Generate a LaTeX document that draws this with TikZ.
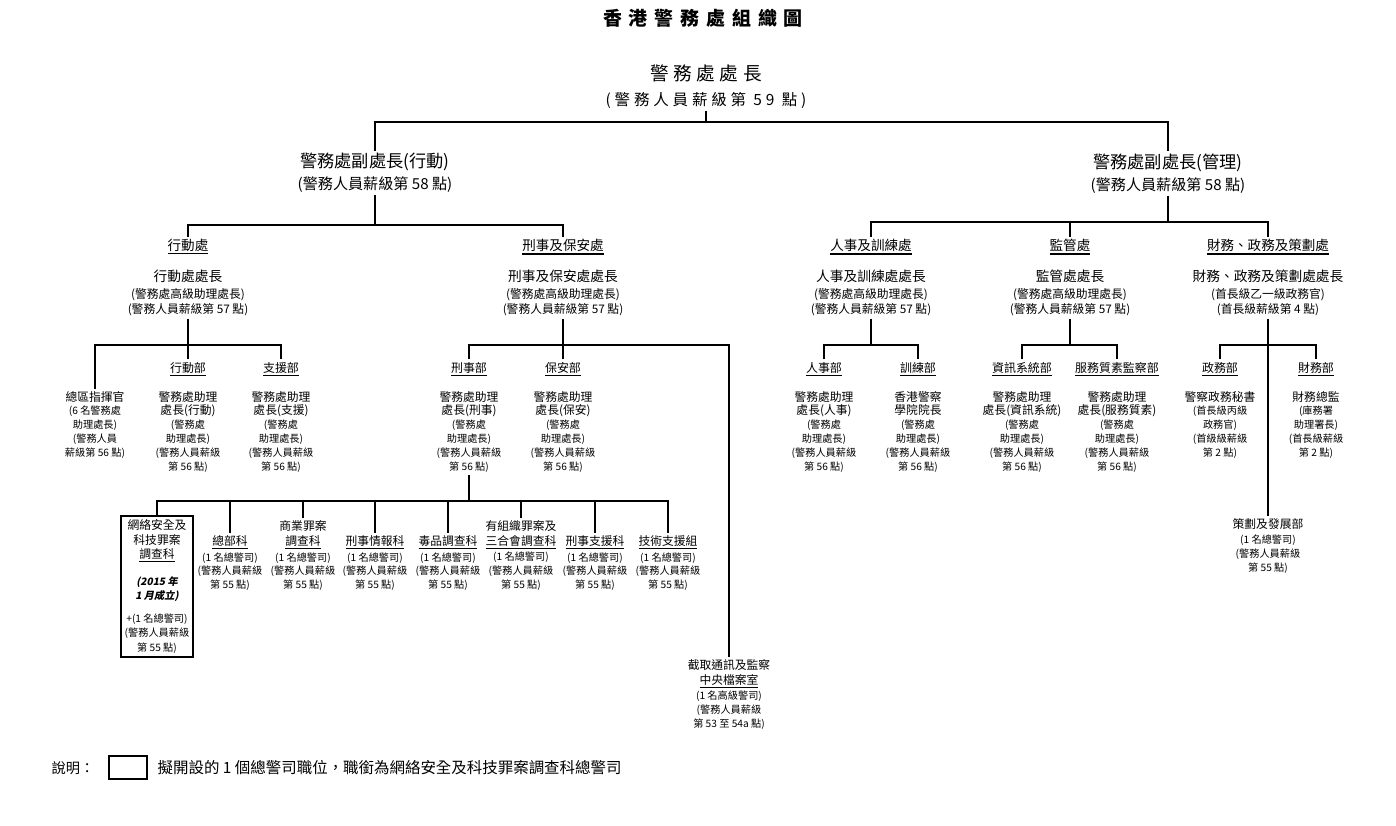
\documentclass[tikz,border=0pt]{standalone}
\usepackage{fontspec}
\setmainfont{Noto Sans CJK TC}
\newfontfamily\spacedfont[LetterSpace=25]{Noto Sans CJK TC}
\newfontfamily\titlefont[LetterSpace=36]{Noto Sans CJK TC}
\newfontfamily\slantfont[FakeSlant=0.2]{Noto Sans CJK TC}
\newcommand\lbig{\fontsize{6.7}{7.9}\selectfont}
\newcommand\lsmall{\fontsize{5.8}{7.9}\selectfont}
\newcommand\uline[1]{\setbox0\hbox{#1}\vtop{\copy0\kern0.9pt\hrule height0.65pt width\wd0}}

\begin{document}
\begin{tikzpicture}[x=0.02cm, y=-0.02cm,
  every node/.style={inner sep=0pt, outer sep=1.5pt, align=center, anchor=north},
  link/.style={line width=0.85pt},
  deputy/.style={font=\fontsize{8.6}{12.5}\selectfont},
  dept/.style={font=\fontsize{7.7}{9}\selectfont},
  head/.style={font=\fontsize{6.7}{8.6}\selectfont},
  unit/.style={font=\fontsize{6.8}{8}\selectfont},
  post/.style={font=\lsmall}]
\useasboundingbox (0,0) rectangle (1396,825);

\node[font=\titlefont\bfseries\fontsize{10.8}{12}\selectfont] (title) at (703,6) {香港警務處組織圖};

\node[font=\spacedfont\fontsize{8.8}{14.2}\selectfont] (chief) at (706,62.5) {{\fontsize{10.6}{14.2}\selectfont 警務處處長}\\(警務人員薪級第 59 點)};

\node[deputy] (dops) at (375,150.8) {{\fontsize{9.8}{12.5}\selectfont 警務處副處長(行動)}\\(警務人員薪級第 58 點)};
\node[deputy] (dadm) at (1168,150.8) {{\fontsize{9.8}{12.5}\selectfont 警務處副處長(管理)}\\(警務人員薪級第 58 點)};

\node[dept] (ops) at (188,236.6) {\uline{行動處}};
\node[dept] (crime) at (563,236.6) {\uline{刑事及保安處}};
\node[dept] (hr) at (871,236.6) {\uline{人事及訓練處}};
\node[dept] (sup) at (1070,236.6) {\uline{監管處}};
\node[dept] (fin) at (1268,236.6) {\uline{財務、政務及策劃處}};

\node[head] (opsh) at (188,267.5) {{\fontsize{7.8}{8.6}\selectfont 行動處處長}\\[1pt](警務處高級助理處長)\\(警務人員薪級第 57 點)};
\node[head] (crimeh) at (563,267.5) {{\fontsize{7.8}{8.6}\selectfont 刑事及保安處處長}\\[1pt](警務處高級助理處長)\\(警務人員薪級第 57 點)};
\node[head] (hrh) at (871,267.5) {{\fontsize{7.8}{8.6}\selectfont 人事及訓練處處長}\\[1pt](警務處高級助理處長)\\(警務人員薪級第 57 點)};
\node[head] (suph) at (1070,267.5) {{\fontsize{7.8}{8.6}\selectfont 監管處處長}\\[1pt](警務處高級助理處長)\\(警務人員薪級第 57 點)};
\node[head] (finh) at (1268,267.5) {{\fontsize{7.8}{8.6}\selectfont 財務、政務及策劃處處長}\\[1pt](首長級乙一級政務官)\\(首長級薪級第 4 點)};

\node[unit] (opsd) at (188,359.4) {\uline{行動部}};
\node[unit] (supd) at (281,359.4) {\uline{支援部}};
\node[unit] (crd) at (469,359.4) {\uline{刑事部}};
\node[unit] (secd) at (563,359.4) {\uline{保安部}};
\node[unit] (persd) at (824,359.4) {\uline{人事部}};
\node[unit] (trd) at (918,359.4) {\uline{訓練部}};
\node[unit] (itd) at (1022,359.4) {\uline{資訊系統部}};
\node[unit] (qad) at (1117,359.4) {\uline{服務質素監察部}};
\node[unit] (gov) at (1220,359.4) {\uline{政務部}};
\node[unit] (fnd) at (1316,359.4) {\uline{財務部}};

\node[post] (cmd) at (95,388.5) {{\lbig 總區指揮官}\\(6 名警務處\\助理處長)\\(警務人員\\薪級第 56 點)};
\node[post] (opsb) at (188,388.5) {{\lbig 警務處助理}\\{\lbig 處長(行動)}\\(警務處\\助理處長)\\(警務人員薪級\\第 56 點)};
\node[post] (supb) at (281,388.5) {{\lbig 警務處助理}\\{\lbig 處長(支援)}\\(警務處\\助理處長)\\(警務人員薪級\\第 56 點)};
\node[post] (crb) at (469,388.5) {{\lbig 警務處助理}\\{\lbig 處長(刑事)}\\(警務處\\助理處長)\\(警務人員薪級\\第 56 點)};
\node[post] (secb) at (563,388.5) {{\lbig 警務處助理}\\{\lbig 處長(保安)}\\(警務處\\助理處長)\\(警務人員薪級\\第 56 點)};
\node[post] (persb) at (824,388.5) {{\lbig 警務處助理}\\{\lbig 處長(人事)}\\(警務處\\助理處長)\\(警務人員薪級\\第 56 點)};
\node[post] (trb) at (918,388.5) {{\lbig 香港警察}\\{\lbig 學院院長}\\(警務處\\助理處長)\\(警務人員薪級\\第 56 點)};
\node[post] (itb) at (1022,388.5) {{\lbig 警務處助理}\\{\lbig 處長(資訊系統)}\\(警務處\\助理處長)\\(警務人員薪級\\第 56 點)};
\node[post] (qab) at (1117,388.5) {{\lbig 警務處助理}\\{\lbig 處長(服務質素)}\\(警務處\\助理處長)\\(警務人員薪級\\第 56 點)};
\node[post] (govb) at (1220,388.5) {{\lbig 警察政務秘書}\\(首長級丙級\\政務官)\\(首級級薪級\\第 2 點)};
\node[post] (fnb) at (1316,388.5) {{\lbig 財務總監}\\(庫務署\\助理署長)\\(首長級薪級\\第 2 點)};

\node[draw, link, outer sep=0pt, minimum width=1.44cm, minimum height=2.82cm, font=\fontsize{5.8}{8.2}\selectfont] (cyber) at (157,516) {{\lbig 網絡安全及}\\{\lbig 科技罪案}\\{\lbig\uline{調查科}}\\[7pt]{\slantfont\bfseries (2015 年}\\{\slantfont\bfseries 1 月成立)}\\[4.5pt]+(1 名總警司)\\(警務人員薪級\\第 55 點)};
\node[post] (hq) at (230,532.5) {{\lbig\uline{總部科}}\\[1.2pt](1 名總警司)\\(警務人員薪級\\第 55 點)};
\node[post] (ccb) at (303,517.5) {{\lbig 商業罪案}\\[0.6pt]{\lbig\uline{調查科}}\\[1.2pt](1 名總警司)\\(警務人員薪級\\第 55 點)};
\node[post] (cib) at (375,532.5) {{\lbig\uline{刑事情報科}}\\[1.2pt](1 名總警司)\\(警務人員薪級\\第 55 點)};
\node[post] (ndb) at (448,532.5) {{\lbig\uline{毒品調查科}}\\[1.2pt](1 名總警司)\\(警務人員薪級\\第 55 點)};
\node[post] (otb) at (521,517.5) {{\lbig 有組織罪案及}\\[0.6pt]{\lbig\uline{三合會調查科}}\\[1.2pt](1 名總警司)\\(警務人員薪級\\第 55 點)};
\node[post] (csd) at (595,532.5) {{\lbig\uline{刑事支援科}}\\[1.2pt](1 名總警司)\\(警務人員薪級\\第 55 點)};
\node[post] (tsd) at (668,532.5) {{\lbig\uline{技術支援組}}\\[1.2pt](1 名總警司)\\(警務人員薪級\\第 55 點)};

\node[post] (icp) at (729,656.5) {{\lbig 截取通訊及監察}\\[1pt]{\lbig\uline{中央檔案室}}\\[0.6pt](1 名高級警司)\\(警務人員薪級\\第 53 至 54a 點)};
\node[post] (plan) at (1268,515.5) {{\lbig 策劃及發展部}\\[1pt](1 名總警司)\\(警務人員薪級\\第 55 點)};

\node[anchor=center, font=\fontsize{8.1}{9}\selectfont] (lgd) at (73,768) {說明：};
\node[anchor=center, draw, link, outer sep=0pt, minimum width=0.76cm, minimum height=0.46cm] (lgdbox) at (128,767.5) {};
\node[anchor=west, font=\fontsize{8.8}{10}\selectfont] (lgdtext) at (155,768) {擬開設的 1 個總警司職位，職銜為網絡安全及科技罪案調查科總警司};

\coordinate (b0) at (0,122);
\coordinate (b1) at (0,225);
\coordinate (b2) at (0,222);
\coordinate (b3) at (0,345);
\coordinate (b4) at (0,501);

\draw[link] (chief) -- (chief |- b0);
\draw[link] (dops) -- (dops |- b0) -- (dadm |- b0) -- (dadm);
\draw[link] (dops) -- (dops |- b1);
\draw[link] (ops) -- (ops |- b1) -- (crime |- b1) -- (crime);
\draw[link] (dadm) -- (dadm |- b2);
\draw[link] (hr) -- (hr |- b2) -- (fin |- b2) -- (fin);
\draw[link] (sup) -- (sup |- b2);
\draw[link] (opsh) -- (opsh |- b3);
\draw[link] (cmd) -- (cmd |- b3) -- (supd |- b3) -- (supd);
\draw[link] (opsd) -- (opsd |- b3);
\draw[link] (crimeh) -- (crimeh |- b3);
\draw[link] (crd) -- (crd |- b3) -- (icp |- b3) -- (icp);
\draw[link] (secd) -- (secd |- b3);
\draw[link] (hrh) -- (hrh |- b3);
\draw[link] (persd) -- (persd |- b3) -- (trd |- b3) -- (trd);
\draw[link] (suph) -- (suph |- b3);
\draw[link] (itd) -- (itd |- b3) -- (qad |- b3) -- (qad);
\draw[link] (finh) -- (plan);
\draw[link] (gov) -- (gov |- b3) -- (fnd |- b3) -- (fnd);
\draw[link] (crb) -- (crb |- b4);
\draw[link] (cyber) -- (cyber |- b4) -- (tsd |- b4) -- (tsd);
\foreach \s in {hq, ccb, cib, ndb, otb, csd}
  \draw[link] (\s) -- (\s |- b4);
\end{tikzpicture}
\end{document}
